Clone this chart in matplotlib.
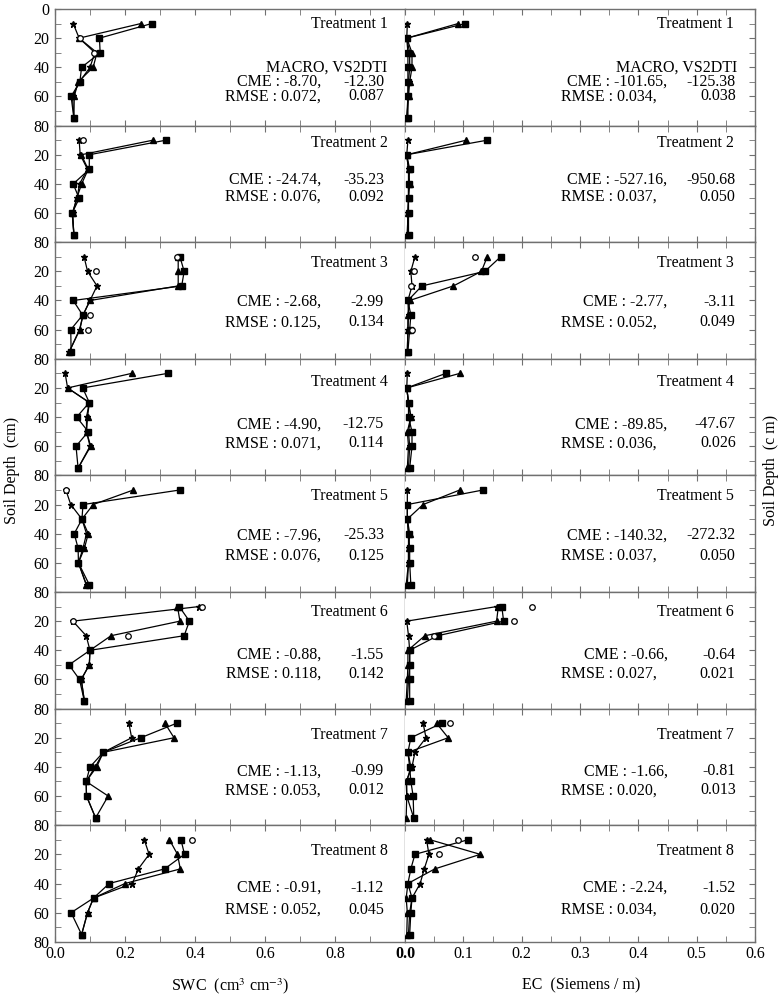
import numpy as np
import matplotlib.pyplot as plt
from matplotlib.ticker import MultipleLocator

plt.rcParams['font.family'] = ['Liberation Serif', 'DejaVu Serif']
plt.rcParams['mathtext.fontset'] = 'stix'

nan = np.nan
depth = [10, 20, 30, 40, 50, 60, 75]
treatments = ["Treatment %d" % i for i in range(1, 9)]

# soil water content (cm3 cm-3), one row per treatment
swc_obs = [
    [0.052, 0.069, 0.114, 0.100, 0.070, 0.050, 0.054],
    [0.069, 0.072, 0.093, 0.070, 0.063, 0.050, 0.054],
    [0.083, 0.093, 0.120, 0.100, 0.080, 0.071, 0.041],
    [0.029, 0.036, 0.098, 0.090, 0.090, 0.100, 0.066],
    [0.031, 0.045, 0.077, 0.090, 0.080, 0.067, 0.090],
    [0.411, 0.051, 0.089, 0.100, 0.098, 0.075, 0.084],
    [0.211, 0.219, 0.138, 0.115, 0.089, 0.090, 0.116],
    [0.255, 0.269, 0.238, 0.221, 0.110, 0.093, 0.076],
]
swc_macro = [
    [0.245, 0.069, 0.120, 0.109, 0.066, 0.055, 0.054],
    [0.280, 0.075, 0.095, 0.076, 0.062, 0.050, 0.054],
    [0.352, 0.352, 0.352, 0.100, 0.080, 0.070, 0.041],
    [0.219, 0.036, 0.098, 0.093, 0.090, 0.102, 0.066],
    [0.224, 0.109, 0.077, 0.095, 0.084, 0.067, 0.089],
    [0.350, 0.357, 0.160, 0.100, 0.098, 0.075, 0.084],
    [0.314, 0.340, 0.138, 0.119, 0.089, 0.152, 0.116],
    [0.327, 0.350, 0.358, 0.200, 0.110, 0.093, 0.076],
]
swc_vs2dti = [
    [0.276, 0.127, 0.129, 0.076, 0.071, 0.046, 0.054],
    [0.317, 0.098, 0.098, 0.052, 0.069, 0.049, 0.054],
    [0.357, 0.369, 0.362, 0.052, 0.079, 0.045, 0.046],
    [0.322, 0.079, 0.098, 0.062, 0.095, 0.060, 0.066],
    [0.357, 0.080, 0.077, 0.055, 0.066, 0.067, 0.098],
    [0.355, 0.384, 0.369, 0.100, 0.040, 0.070, 0.084],
    [0.348, 0.245, 0.138, 0.100, 0.089, 0.090, 0.116],
    [0.360, 0.370, 0.313, 0.155, 0.110, 0.046, 0.076],
]
swc_circ = [
    [nan, 0.070, 0.112, nan, nan, nan, nan],
    [0.079, nan, nan, nan, nan, nan, nan],
    [0.348, 0.116, nan, nan, 0.100, 0.093, nan],
    [nan, nan, nan, nan, nan, nan, nan],
    [0.031, nan, nan, nan, nan, nan, nan],
    [0.420, 0.051, 0.208, nan, nan, nan, nan],
    [nan, nan, nan, nan, nan, nan, nan],
    [0.392, nan, nan, nan, nan, nan, nan],
]

# electrical conductivity (Siemens / m)
ec_obs = [
    [0.004, 0.003, 0.008, 0.008, 0.006, 0.005, 0.003],
    [0.005, 0.003, 0.006, 0.006, 0.006, 0.005, 0.004],
    [0.017, 0.010, 0.012, 0.005, 0.006, 0.005, 0.004],
    [0.004, 0.003, 0.006, 0.010, 0.006, 0.008, 0.006],
    [0.004, 0.004, 0.004, 0.006, 0.006, 0.006, 0.004],
    [0.157, 0.003, 0.006, 0.008, 0.008, 0.006, 0.004],
    [0.031, 0.036, 0.017, 0.012, 0.002, 0.003, 0.015],
    [0.037, 0.041, 0.033, 0.026, 0.012, 0.008, 0.006],
]
ec_macro = [
    [0.091, 0.003, 0.012, 0.012, 0.008, 0.006, 0.003],
    [0.105, 0.003, 0.006, 0.008, 0.006, 0.005, 0.004],
    [0.141, 0.131, 0.083, 0.008, 0.005, 0.005, 0.004],
    [0.094, 0.003, 0.006, 0.010, 0.004, 0.006, 0.004],
    [0.094, 0.031, 0.004, 0.008, 0.006, 0.006, 0.002],
    [0.160, 0.157, 0.034, 0.005, 0.005, 0.004, 0.002],
    [0.054, 0.074, 0.005, 0.010, 0.003, 0.003, 0.002],
    [0.043, 0.129, 0.051, 0.005, 0.002, 0.004, 0.003],
]
ec_vs2dti = [
    [0.103, 0.003, 0.005, 0.005, 0.005, 0.005, 0.005],
    [0.141, 0.003, 0.008, 0.006, 0.006, 0.006, 0.006],
    [0.164, 0.137, 0.029, 0.005, 0.010, 0.008, 0.005],
    [0.070, 0.003, 0.006, 0.006, 0.012, 0.012, 0.008],
    [0.134, 0.004, 0.004, 0.006, 0.008, 0.008, 0.010],
    [0.166, 0.169, 0.056, 0.008, 0.008, 0.008, 0.008],
    [0.063, 0.010, 0.005, 0.008, 0.010, 0.014, 0.015],
    [0.108, 0.017, 0.010, 0.005, 0.012, 0.010, 0.008],
]
ec_circ = [
    [nan, nan, nan, nan, nan, nan, nan],
    [nan, nan, nan, nan, nan, nan, nan],
    [0.120, 0.016, 0.010, nan, nan, 0.012, nan],
    [nan, nan, nan, nan, nan, nan, nan],
    [nan, nan, nan, nan, nan, nan, nan],
    [0.217, 0.187, 0.050, nan, nan, nan, nan],
    [0.077, nan, nan, nan, nan, nan, nan],
    [0.091, 0.058, nan, nan, nan, nan, nan],
]

swc_cme = ["-8.70,", "-24.74,", "-2.68,", "-4.90,", "-7.96,", "-0.88,", "-1.13,", "-0.91,"]
swc_cme2 = ["-12.30", "-35.23", "-2.99", "-12.75", "-25.33", "-1.55", "-0.99", "-1.12"]
swc_rmse = ["0.072,", "0.076,", "0.125,", "0.071,", "0.076,", "0.118,", "0.053,", "0.052,"]
swc_rmse2 = ["0.087", "0.092", "0.134", "0.114", "0.125", "0.142", "0.012", "0.045"]
ec_cme = ["-101.65,", "-527.16,", "-2.77,", "-89.85,", "-140.32,", "-0.66,", "-1.66,", "-2.24,"]
ec_cme2 = ["-125.38", "-950.68", "-3.11", "-47.67", "-272.32", "-0.64", "-0.81", "-1.52"]
ec_rmse = ["0.034,", "0.037,", "0.052,", "0.036,", "0.037,", "0.027,", "0.020,", "0.034,"]
ec_rmse2 = ["0.038", "0.050", "0.049", "0.026", "0.050", "0.021", "0.013", "0.020"]

# text placement (depth of each label line, per row)
title_d = [10, 12, 14, 16, 14, 14, 18, 18]
cme_d = [50, 37, 41, 45, 41, 43, 43, 43]
rmse_d = [60, 49, 55, 58, 55, 56, 56, 58]

W, H = 784, 1000
fig = plt.figure(figsize=(W / 100, H / 100), dpi=100)

x_left, x_mid, x_right = 55, 405, 755
top, ph = 9, 116.6
gray = '#707070'
fs = 11.5


def draw_profiles(ax, obs, macro, vs, circ):
    ax.plot(obs, depth, '-', color='k', lw=0.9, marker='*', ms=5, zorder=3)
    ax.plot(macro, depth, '-', color='k', lw=0.9, marker='^', ms=5, zorder=3)
    ax.plot(vs, depth, '-', color='k', lw=0.9, marker='s', ms=5, zorder=4)
    ax.plot(circ, depth, 'o', color='k', mfc='white', mew=0.9, ms=4, zorder=5)


for i in range(8):
    b = 1 - (top + ph * (i + 1)) / H
    h = ph / H
    axl = fig.add_axes([x_left / W, b, (x_mid - x_left) / W, h])
    axr = fig.add_axes([x_mid / W, b, (x_right - x_mid) / W, h])

    draw_profiles(axl, swc_obs[i], swc_macro[i], swc_vs2dti[i], swc_circ[i])
    draw_profiles(axr, ec_obs[i], ec_macro[i], ec_vs2dti[i], ec_circ[i])

    for ax in (axl, axr):
        ax.set_ylim(80, 0)
        for sp in ax.spines.values():
            sp.set_color(gray)
            sp.set_linewidth(1.0)
        ax.yaxis.set_major_locator(MultipleLocator(20))
        ax.yaxis.set_minor_locator(MultipleLocator(10))
        ax.tick_params(which='both', direction='in', colors=gray,
                       top=True, bottom=True, labelsize=fs, labelcolor='k')
        ax.tick_params(which='both', length=4)

    axl.set_xlim(0, 1.0)
    axl.xaxis.set_major_locator(MultipleLocator(0.2))
    axl.xaxis.set_minor_locator(MultipleLocator(0.1))
    axl.tick_params(axis='y', which='both', left=True, right=False)
    axl.set_yticks([0, 20, 40, 60, 80])
    axl.set_yticklabels(['0' if i == 0 else '', '20', '40', '60', '80'])
    axl.tick_params(axis='y', pad=4)

    axr.set_xlim(0, 0.6)
    axr.xaxis.set_major_locator(MultipleLocator(0.1))
    axr.xaxis.set_minor_locator(MultipleLocator(0.05))
    axr.tick_params(axis='y', which='both', left=False, right=True,
                    labelleft=False)
    axr.spines['left'].set_visible(False)

    if i < 7:
        axl.tick_params(axis='x', labelbottom=False)
        axr.tick_params(axis='x', labelbottom=False)
    else:
        axl.set_xticks([0, 0.2, 0.4, 0.6, 0.8])
        axl.set_xticklabels(['0.0', '0.2', '0.4', '0.6', '0.8'])
        axr.set_xticks([0, 0.1, 0.2, 0.3, 0.4, 0.5, 0.6])
        axr.set_xticklabels(['0.0', '0.1', '0.2', '0.3', '0.4', '0.5', '0.6'])
        axl.tick_params(axis='x', pad=3)
        axr.tick_params(axis='x', pad=3)
        axr.get_xticklabels()[0].set_fontweight('bold')

    tl = axl.get_yaxis_transform()
    tr = axr.get_yaxis_transform()
    axl.text(0.95, title_d[i], treatments[i], transform=tl, ha='right',
             va='center', fontsize=fs)
    axr.text(0.94, title_d[i], treatments[i], transform=tr, ha='right',
             va='center', fontsize=fs)
    if i == 0:
        axl.text(0.95, 40, "MACRO, VS2DTI", transform=tl, ha='right',
                 va='center', fontsize=fs)
        axr.text(0.95, 40, "MACRO, VS2DTI", transform=tr, ha='right',
                 va='center', fontsize=fs)
    # two-column stats text: label part then value part
    axl.text(0.76, cme_d[i], "CME : " + swc_cme[i], transform=tl, ha='right',
             va='center', fontsize=fs)
    axl.text(0.94, cme_d[i], swc_cme2[i], transform=tl, ha='right',
             va='center', fontsize=fs)
    axl.text(0.76, rmse_d[i], "RMSE : " + swc_rmse[i], transform=tl,
             ha='right', va='center', fontsize=fs)
    axl.text(0.94, rmse_d[i], swc_rmse2[i], transform=tl, ha='right',
             va='center', fontsize=fs)
    axr.text(0.75, cme_d[i], "CME : " + ec_cme[i], transform=tr, ha='right',
             va='center', fontsize=fs)
    axr.text(0.945, cme_d[i], ec_cme2[i], transform=tr, ha='right',
             va='center', fontsize=fs)
    axr.text(0.72, rmse_d[i], "RMSE : " + ec_rmse[i], transform=tr,
             ha='right', va='center', fontsize=fs)
    axr.text(0.945, rmse_d[i], ec_rmse2[i], transform=tr, ha='right',
             va='center', fontsize=fs)

fig.text(12 / W, 1 - 470 / H, "Soil Depth  (cm)", rotation=90, ha='center',
         va='center', fontsize=fs)
fig.text(771 / W, 1 - 470 / H, "Soil Depth  (c m)", rotation=90, ha='center',
         va='center', fontsize=fs)
fig.text(230 / W, 1 - 986 / H, "SWC  (cm$^3$ cm$^{-3}$)", ha='center',
         va='center', fontsize=fs)
fig.text(581 / W, 1 - 985 / H, "EC  (Siemens / m)", ha='center',
         va='center', fontsize=fs)

fig.savefig("out.png", dpi=100)
